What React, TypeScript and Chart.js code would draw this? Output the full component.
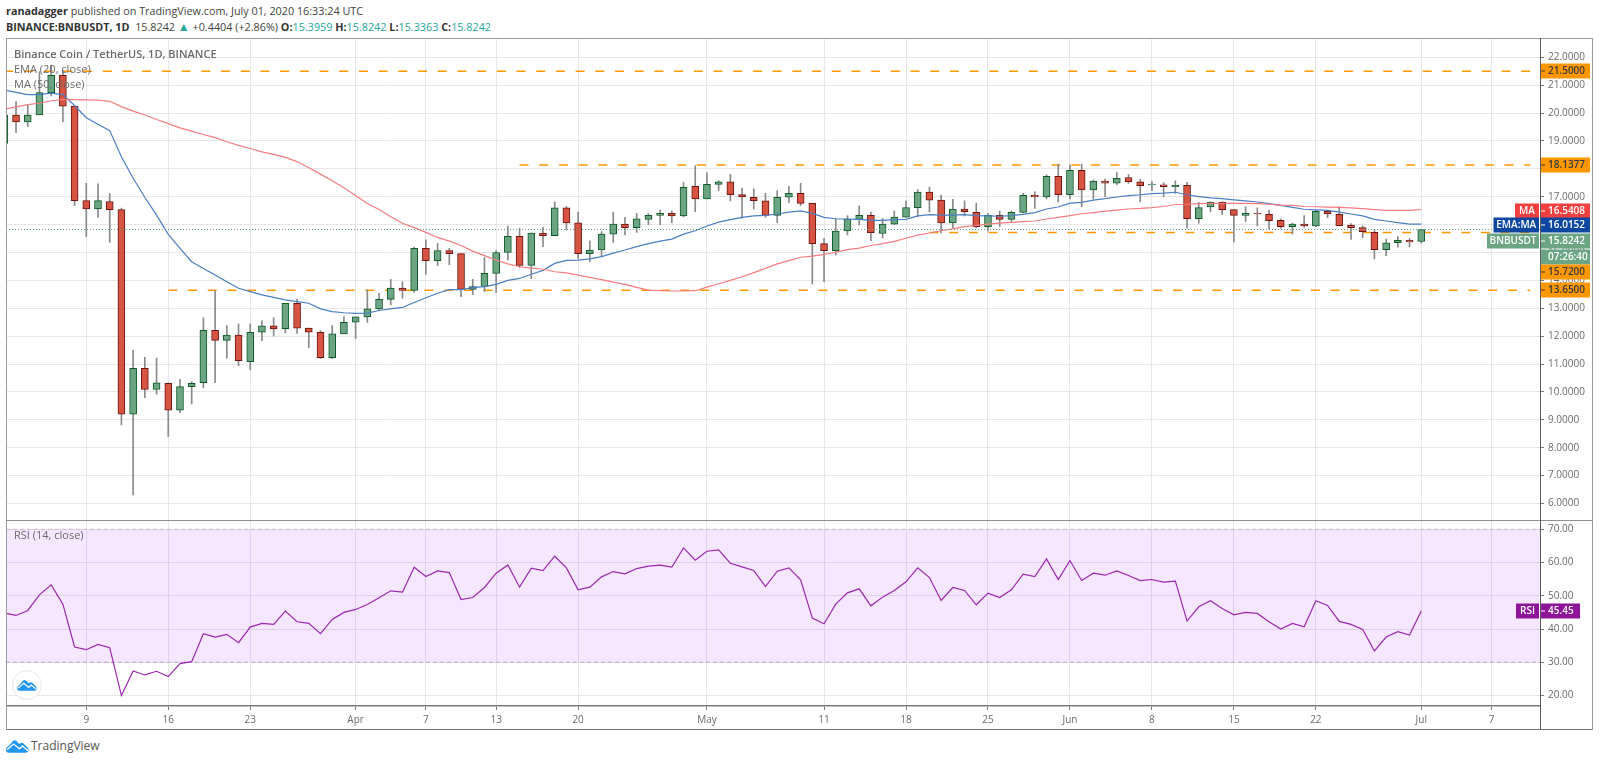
import React, { useEffect, useRef } from "react";
import { Chart, registerables } from "chart.js";

Chart.register(...registerables);

const firstDay = -7; // day offsets counted from 9 March
const opens = [
  18.91,19.93,19.68,19.93,20.73,21.35,20.25,16.86,16.56,16.83,
  16.54,9.20,10.85,10.09,10.31,9.35,10.19,10.33,12.21,11.85,
  12.04,11.09,12.14,12.37,12.27,13.18,12.29,12.14,11.23,12.08,
  12.50,12.69,12.98,13.32,13.72,13.64,15.15,14.71,15.07,14.96,
  13.68,13.78,14.25,15.00,15.58,14.54,15.70,15.60,16.60,16.06,
  14.96,15.09,15.66,16.02,15.89,16.19,16.33,16.40,16.31,17.37,
  16.92,17.44,17.53,17.08,16.98,16.85,16.33,16.98,17.12,16.76,
  15.32,15.07,15.77,16.19,16.33,15.68,16.02,16.27,16.61,17.17,
  16.88,16.06,16.56,16.44,15.93,16.33,16.19,16.44,17.05,16.99,
  17.73,17.07,17.95,17.24,17.56,17.49,17.69,17.53,17.43,17.43,
  17.36,17.41,16.21,16.63,16.80,16.54,16.33,16.40,16.37,16.15,
  15.93,16.02,15.95,16.48,16.37,15.98,15.89,15.72,15.10,15.35,
  15.44,15.3959,
];
const closes = [
  19.93,19.68,19.93,20.73,21.35,20.25,16.86,16.56,16.86,16.54,
  9.20,10.85,10.09,10.33,9.35,10.19,10.31,12.21,11.85,12.04,
  11.12,12.14,12.37,12.26,13.18,12.29,12.14,11.23,12.08,12.50,
  12.69,12.98,13.32,13.72,13.64,15.15,14.71,15.07,14.96,13.68,
  13.78,14.25,15.00,15.58,14.54,15.70,15.60,16.60,16.06,14.96,
  15.09,15.66,16.02,15.89,16.21,16.33,16.40,16.31,17.34,16.92,
  17.44,17.53,17.07,16.99,16.86,16.33,16.98,17.12,16.76,15.32,
  15.07,15.77,16.19,16.33,15.71,16.02,16.27,16.61,17.17,16.88,
  16.06,16.56,16.46,15.93,16.33,16.19,16.44,17.05,16.99,17.73,
  17.07,17.95,17.24,17.56,17.49,17.66,17.54,17.40,17.45,17.36,
  17.41,16.21,16.61,16.80,16.54,16.33,16.40,16.38,16.14,15.93,
  16.02,15.95,16.48,16.38,15.96,15.89,15.75,15.10,15.35,15.44,
  15.38,15.8242,
];
const highs = [
  20.10,20.41,20.29,21.48,21.72,21.54,20.25,17.48,17.46,17.12,
  16.59,11.50,11.24,11.21,10.33,10.45,10.37,12.66,13.63,12.38,
  12.44,12.44,12.55,12.66,13.18,13.33,12.29,12.20,12.38,12.70,
  12.69,13.66,13.54,14.04,13.95,15.19,15.45,15.33,15.15,14.96,
  14.04,14.82,15.07,15.95,15.87,15.70,15.90,16.81,16.65,16.45,
  15.42,15.75,16.45,16.26,16.40,16.40,16.52,16.49,17.51,18.11,
  17.86,17.58,17.80,17.31,17.28,17.12,17.22,17.37,17.48,16.76,
  15.51,16.20,16.32,16.67,16.45,16.22,16.49,16.85,17.26,17.34,
  17.06,16.91,16.85,16.77,16.40,16.49,16.49,17.12,17.18,17.78,
  18.17,18.13,18.17,17.60,17.63,17.87,17.80,17.63,17.54,17.50,
  17.57,17.52,16.80,16.82,16.82,16.54,16.64,16.60,16.52,16.20,
  16.05,16.32,16.50,16.52,16.64,16.04,15.96,15.83,15.48,15.57,
  15.50,15.8242,
];
const lows = [
  18.90,19.30,19.51,19.93,20.61,19.69,16.68,15.57,16.26,15.36,
  8.82,6.31,9.80,9.92,8.40,9.26,9.57,10.15,10.33,11.21,
  10.94,10.79,11.84,12.01,12.12,12.10,11.59,11.20,11.20,12.08,
  11.91,12.49,12.92,13.12,13.36,13.57,14.22,14.53,14.56,13.42,
  13.49,13.60,13.57,14.73,14.46,14.06,15.21,15.60,15.81,14.79,
  14.67,14.85,15.36,15.63,15.72,16.00,16.00,16.07,16.28,16.46,
  16.92,17.22,16.85,16.23,16.56,16.26,16.07,16.79,16.68,13.87,
  13.95,14.91,15.63,15.99,15.42,15.52,16.00,16.26,16.28,16.45,
  15.70,15.87,16.31,15.89,15.77,15.93,16.11,16.42,16.58,16.92,
  16.81,16.92,16.64,16.92,17.00,17.43,17.48,16.82,17.22,17.00,
  17.12,15.88,16.05,16.46,16.36,15.38,16.11,15.95,15.84,15.87,
  15.66,15.90,15.93,16.25,15.95,15.47,15.53,14.77,14.89,15.19,
  15.21,15.3363,
];
const ema20 = [
  20.82,20.74,20.66,20.66,20.71,20.66,20.27,19.83,19.60,19.37,
  18.43,17.66,16.98,16.34,15.65,15.15,14.67,14.43,14.19,13.95,
  13.72,13.60,13.48,13.39,13.30,13.24,13.18,12.98,12.88,12.84,
  12.82,12.83,12.92,12.98,13.03,13.21,13.38,13.54,13.67,13.67,
  13.74,13.78,13.86,14.00,14.07,14.22,14.36,14.61,14.72,14.73,
  14.77,14.85,14.98,15.09,15.21,15.32,15.41,15.48,15.66,15.78,
  15.95,16.09,16.18,16.26,16.31,16.33,16.38,16.45,16.49,16.40,
  16.26,16.21,16.20,16.19,16.15,16.15,16.18,16.19,16.31,16.36,
  16.34,16.34,16.36,16.32,16.31,16.30,16.32,16.37,16.43,16.56,
  16.63,16.77,16.80,16.88,16.93,16.99,17.04,17.07,17.11,17.13,
  17.16,17.07,17.00,16.96,16.93,16.89,16.85,16.81,16.75,16.69,
  16.62,16.55,16.53,16.51,16.45,16.38,16.31,16.19,16.13,16.07,
  16.02,16.0152,
];
const ma50 = [
  20.14,20.22,20.30,20.35,20.44,20.49,20.48,20.47,20.46,20.42,
  20.23,20.07,19.93,19.77,19.62,19.47,19.35,19.23,19.12,18.97,
  18.84,18.73,18.61,18.52,18.41,18.26,18.04,17.81,17.57,17.32,
  17.04,16.76,16.54,16.28,16.05,15.89,15.72,15.54,15.41,15.25,
  15.05,14.89,14.73,14.59,14.49,14.44,14.40,14.31,14.27,14.19,
  14.11,14.03,13.94,13.86,13.75,13.65,13.63,13.62,13.62,13.63,
  13.76,13.88,14.00,14.13,14.28,14.43,14.59,14.71,14.83,14.87,
  14.93,15.01,15.10,15.16,15.25,15.32,15.40,15.51,15.62,15.70,
  15.78,15.85,15.93,15.97,16.02,16.05,16.08,16.11,16.13,16.20,
  16.26,16.32,16.39,16.43,16.48,16.52,16.56,16.58,16.61,16.65,
  16.72,16.73,16.75,16.76,16.76,16.76,16.76,16.75,16.73,16.70,
  16.69,16.65,16.64,16.63,16.62,16.60,16.57,16.54,16.51,16.51,
  16.51,16.5408,
];
const rsi14 = [
  44.8,44.1,45.6,50.3,53.3,47.5,34.6,33.8,35.4,34.4,
  20.0,27.4,26.2,27.3,25.7,29.6,30.2,38.6,37.6,38.4,
  35.9,40.6,41.7,41.4,45.4,42.2,41.7,38.6,42.9,45.0,
  45.9,47.4,49.4,51.5,51.1,58.6,55.8,57.5,57.0,48.9,
  49.5,52.5,56.8,59.3,52.6,58.3,57.6,61.9,58.4,51.8,
  52.6,55.7,57.3,56.6,58.2,58.9,59.2,58.6,64.4,60.7,
  63.4,63.8,59.8,58.7,57.6,52.8,57.4,58.4,54.8,43.3,
  41.6,47.5,50.9,52.1,47.0,49.6,51.6,54.2,58.4,55.5,
  48.6,52.5,51.6,47.3,50.8,49.5,51.8,56.5,55.8,61.1,
  54.9,60.6,54.6,56.8,56.2,57.5,56.1,54.6,54.9,54.1,
  54.4,42.4,46.7,48.5,46.2,44.3,45.0,44.7,42.2,40.0,
  41.7,40.7,48.5,47.1,42.3,41.4,39.9,33.4,37.6,39.2,
  38.2,45.45,
];

const xTickDays = [0, 7, 14, 23, 29, 35, 42, 53, 63, 70, 77, 84, 91, 98, 105, 114, 120];
const xTickLabels = ["9", "16", "23", "Apr", "7", "13", "20", "May", "11", "18", "25", "Jun", "8", "15", "22", "Jul", "7"];
const priceTicks = [6, 7, 8, 9, 10, 11, 12, 13, 14, 15, 16, 17, 18, 19, 20, 21, 22];
const rsiTicks = [20, 30, 40, 50, 60, 70];
const rsiBand = [70, 30];
const resistanceLevels = [21.5, 18.1377, 15.72, 13.65];
const levelStartDays = [-7, 37, 72, 7];
const lastPrice = 15.8242;
const lastRsi = 45.45;

const priceTags = [
  { value: 21.5, text: "21.5000", bg: "#ff9800", fg: "#3a3a3a", side: "", nudge: 0 },
  { value: 18.1377, text: "18.1377", bg: "#ff9800", fg: "#3a3a3a", side: "", nudge: 0 },
  { value: 16.5408, text: "16.5408", bg: "#f23f3f", fg: "#ffffff", side: "MA", nudge: 1 },
  { value: 16.0152, text: "16.0152", bg: "#0d47a1", fg: "#ffffff", side: "EMA:MA", nudge: 1 },
  { value: 15.8242, text: "15.8242", bg: "#6ba583", fg: "#ffffff", side: "BNBUSDT", nudge: 11 },
  { value: 15.8242, text: "07:26:40", bg: "#6ba583", fg: "#ffffff", side: "", nudge: 27 },
  { value: 15.72, text: "15.7200", bg: "#ff9800", fg: "#3a3a3a", side: "", nudge: 40 },
  { value: 13.65, text: "13.6500", bg: "#ff9800", fg: "#3a3a3a", side: "", nudge: 0 },
];
const rsiTags = [{ value: lastRsi, text: "45.45", bg: "#8e1599", fg: "#ffffff", side: "RSI", nudge: 0 }];

const FONT = "'Open Sans', sans-serif";
const GRID = "#e7e7e9";
const AXIS_TEXT = "#6b6b6b";
const xMin = -6.857;
const xMax = 124.14;
const dayOf = (i: number) => firstDay + i;

const noPad = (s: any) => {
  s.paddingTop = 0;
  s.paddingBottom = 0;
  s.paddingLeft = 0;
  s.paddingRight = 0;
};

const tagPlugin = (tags: typeof priceTags, rightWidth: number, sideWidths: Record<string, number>) => ({
  id: "axisTags",
  afterDraw(chart: any) {
    const { ctx, scales, chartArea } = chart;
    const left = chartArea.right;
    ctx.save();
    ctx.textBaseline = "middle";
    ctx.font = `600 10px ${FONT}`;
    for (const t of tags) {
      const y = Math.round(scales.y.getPixelForValue(t.value)) + t.nudge;
      ctx.fillStyle = t.bg;
      ctx.fillRect(left, y - 7.5, rightWidth, 15);
      if (t.text.indexOf(":") < 0) {
        ctx.fillStyle = t.fg;
        ctx.fillRect(left + 1, y - 0.5, 4, 1);
      }
      ctx.fillStyle = t.fg;
      ctx.textAlign = "left";
      ctx.fillText(t.text, left + 8, y);
      if (t.side) {
        const w = sideWidths[t.side];
        ctx.fillStyle = t.bg;
        ctx.fillRect(left - w - 1, y - 7.5, w, 15);
        ctx.fillStyle = "#ffffff";
        ctx.textAlign = "center";
        ctx.fillText(t.side, left - 1 - w / 2, y);
      }
    }
    ctx.restore();
  },
});

const xScale = (visible: boolean) => ({
  type: "linear",
  min: xMin,
  max: xMax,
  offset: false,
  bounds: "data",
  afterBuildTicks: (s: any) => {
    s.ticks = xTickDays.map((value) => ({ value }));
  },
  afterFit: (s: any) => {
    s.height = visible ? 24 : 0;
    noPad(s);
  },
  grid: { color: GRID, lineWidth: 1, drawTicks: visible, tickLength: 4, tickColor: "#777", offset: false },
  border: { display: visible, color: "#7b7b7b", width: 1.5 },
  ticks: {
    display: visible,
    autoSkip: false,
    maxRotation: 0,
    padding: 4,
    color: AXIS_TEXT,
    font: { family: FONT, size: 10 },
    callback: (v: number) => {
      const i = xTickDays.indexOf(v);
      return i >= 0 ? xTickLabels[i] : "";
    },
  },
});

const yScale = (min: number, max: number, tickValues: number[], digits: number) => ({
  position: "right",
  min,
  max,
  bounds: "data",
  afterBuildTicks: (s: any) => {
    s.ticks = tickValues.map((value) => ({ value }));
  },
  afterFit: (s: any) => {
    s.width = 53;
    noPad(s);
  },
  grid: { color: GRID, lineWidth: 1, tickLength: 4, tickColor: "#777" },
  border: { color: "#5d5d5d", width: 1 },
  ticks: {
    autoSkip: false,
    padding: 4,
    color: AXIS_TEXT,
    font: { family: FONT, size: 10 },
    callback: (v: number) => Number(v).toFixed(digits),
  },
});

function Logo({ width, height }: { width: number; height: number }) {
  return (
    <svg width={width} height={height} viewBox="0 0 24 14" style={{ display: "block" }}>
      <path
        d="M0 11 Q0 8 3 7 L7 2 Q9 0 11 2 L14 5 Q16 3 18 4 L23 9 Q25 14 20 14 L3 14 Q0 14 0 11Z"
        fill="#2196f3"
      />
      <path d="M1 11 L8 5 L14 10 L17 7 L23 12" fill="none" stroke="#ffffff" strokeWidth="1.4" />
    </svg>
  );
}

const abs = (left: number, top: number, extra: React.CSSProperties = {}): React.CSSProperties => ({
  position: "absolute",
  left,
  top,
  whiteSpace: "nowrap",
  ...extra,
});

export default function App() {
  const priceRef = useRef<HTMLCanvasElement | null>(null);
  const rsiRef = useRef<HTMLCanvasElement | null>(null);

  useEffect(() => {
    const wick = closes.map((_, i) => ({ x: dayOf(i), y: [lows[i], highs[i]] }));
    const body = closes.map((c, i) => ({ x: dayOf(i), y: [opens[i], c] }));
    const isUp = (ctx: any) => closes[ctx.dataIndex] >= opens[ctx.dataIndex];
    const line = (values: number[]) => values.map((y, i) => ({ x: dayOf(i), y }));

    const price = new Chart(priceRef.current as HTMLCanvasElement, {
      type: "bar",
      data: {
        datasets: [
          {
            type: "line",
            data: [{ x: xMin, y: lastPrice }, { x: xMax, y: lastPrice }],
            borderColor: "#5f9e7c",
            borderWidth: 1,
            borderDash: [1, 2],
            pointRadius: 0,
            order: 0,
          },
          { type: "line", data: line(ma50), borderColor: "#f77c80", borderWidth: 1.2, pointRadius: 0, order: 1, tension: 0 },
          { type: "line", data: line(ema20), borderColor: "#4a7fc4", borderWidth: 1.2, pointRadius: 0, order: 1, tension: 0 },
          {
            type: "bar",
            data: body,
            grouped: false,
            barThickness: 7,
            borderSkipped: false,
            borderWidth: 1,
            backgroundColor: (c: any) => (isUp(c) ? "#6ba583" : "#d75442"),
            borderColor: (c: any) => (isUp(c) ? "#0f5a26" : "#6b1510"),
            order: 2,
          },
          {
            type: "bar",
            data: wick,
            grouped: false,
            barThickness: 1,
            borderWidth: 0,
            backgroundColor: "#8a8a8c",
            order: 3,
          },
          ...resistanceLevels.map((lv, i) => ({
            type: "line",
            data: [{ x: levelStartDays[i], y: lv }, { x: 123.3, y: lv }],
            borderColor: "#ff9800",
            borderWidth: 1.5,
            borderDash: [9, 10.7],
            pointRadius: 0,
            order: 4,
          })),
        ],
      } as any,
      options: {
        responsive: false,
        animation: false,
        layout: { padding: 0 },
        plugins: { legend: { display: false }, tooltip: { enabled: false } },
        scales: { x: xScale(false), y: yScale(5.41, 22.69, priceTicks, 4) } as any,
      } as any,
      plugins: [tagPlugin(priceTags, 50, { MA: 24, "EMA:MA": 45.5, BNBUSDT: 52 })],
    });

    const rsi = new Chart(rsiRef.current as HTMLCanvasElement, {
      type: "line",
      data: {
        datasets: [
          {
            data: line(rsi14),
            borderColor: "#9c27b0",
            borderWidth: 1.2,
            pointRadius: 0,
            tension: 0,
            fill: false,
          },
          {
            data: [{ x: xMin, y: rsiBand[0] }, { x: xMax, y: rsiBand[0] }],
            borderColor: "#c4bcc9",
            borderWidth: 1,
            borderDash: [4, 3],
            pointRadius: 0,
            fill: "+1",
            backgroundColor: "rgba(153,21,255,0.1)",
          },
          {
            data: [{ x: xMin, y: rsiBand[1] }, { x: xMax, y: rsiBand[1] }],
            borderColor: "#b8aebf",
            borderWidth: 1,
            borderDash: [4, 3],
            pointRadius: 0,
            fill: false,
          },
        ],
      } as any,
      options: {
        responsive: false,
        animation: false,
        layout: { padding: 0 },
        plugins: { legend: { display: false }, tooltip: { enabled: false } },
        scales: { x: xScale(true), y: yScale(16.86, 72.8, rsiTicks, 2) } as any,
      } as any,
      plugins: [tagPlugin(rsiTags as any, 40, { RSI: 23 })],
    });

    return () => {
      price.destroy();
      rsi.destroy();
    };
  }, []);

  const teal = { color: "#26a69a" };
  const b = { fontWeight: 700, color: "#333" };
  const legend: React.CSSProperties = { fontFamily: FONT, fontSize: 11, color: "#6a6a6a" };

  return (
    <div style={{ position: "fixed", left: 0, top: 0, width: 1600, height: 763, background: "#fff", overflow: "hidden" }}>
      <div style={abs(6, 3, { fontFamily: FONT, fontSize: 10.8, color: "#444", lineHeight: "16px" })}>
        <span style={{ fontWeight: 700, color: "#333" }}>ranadagger</span> published on TradingView.com, July 01, 2020 16:33:24 UTC
      </div>
      <div style={abs(6, 19, { fontFamily: FONT, fontSize: 10.8, color: "#444", lineHeight: "16px" })}>
        <span style={b}>BINANCE:BNBUSDT, 1D</span>&nbsp; 15.8242 <span style={{ ...teal, fontSize: 12 }}>▲</span> +0.4404 (+2.86%){" "}
        <span style={b}>O:</span><span style={teal}>15.3959</span> <span style={b}>H:</span><span style={teal}>15.8242</span>{" "}
        <span style={b}>L:</span><span style={teal}>15.3363</span> <span style={b}>C:</span><span style={teal}>15.8242</span>
      </div>

      <canvas ref={priceRef} width={1587} height={482} style={abs(6, 38, { display: "block" })} />
      <canvas ref={rsiRef} width={1587} height={210} style={abs(6, 520, { display: "block" })} />

      <div style={abs(6, 38, { width: 1587, height: 692, boxSizing: "border-box", border: "1px solid #9a9a9a", borderBottomColor: "#777" })} />
      <div style={abs(6, 520, { width: 1587, height: 1, background: "#8f8f8f" })} />
      <div style={abs(1540, 38, { width: 1, height: 692, background: "#5d5d5d" })} />

      <div style={abs(14, 46, { ...legend, fontWeight: 600 })}>Binance Coin / TetherUS, 1D, BINANCE</div>
      <div style={abs(14, 61, { ...legend })}>EMA (20, close)</div>
      <div style={abs(14, 76, { ...legend })}>MA (50, close)</div>
      <div style={abs(14, 527, { ...legend })}>RSI (14, close)</div>

      <div style={abs(12, 670, { width: 30, height: 30, borderRadius: 15, background: "#fff", border: "1px solid #e6e6e6", boxSizing: "border-box", display: "flex", alignItems: "center", justifyContent: "center" })}>
        <Logo width={20} height={12} />
      </div>
      <div style={abs(6, 739, {})}>
        <Logo width={23} height={14} />
      </div>
      <div style={abs(31, 738, { fontFamily: FONT, fontSize: 12, color: "#555", lineHeight: "16px" })}>TradingView</div>
    </div>
  );
}
